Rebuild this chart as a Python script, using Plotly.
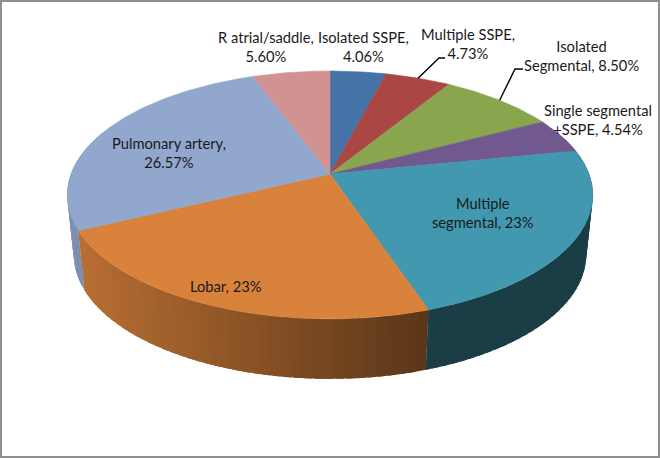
"""Tilted 3D-look pie of pulmonary embolism location, drawn on a pixel-sized axis."""

import math

import plotly.graph_objects as go

CATEGORIES = [
    "Isolated SSPE", "Multiple SSPE", "Isolated Segmental", "Single segmental +SSPE",
    "Multiple segmental", "Lobar", "Pulmonary artery", "R atrial/saddle",
]
VALUES = [4.06, 4.73, 8.50, 4.54, 23, 23, 26.57, 5.60]
COLORS = ["#4572A7", "#AA4643", "#89A54E", "#71588F", "#4198AF", "#D9823B", "#91A7CE", "#D19392"]

LABELS = [
    "Isolated SSPE,<br>4.06%", "Multiple SSPE,<br>4.73%", "Isolated<br>Segmental, 8.50%",
    "Single segmental<br>+SSPE, 4.54%", "Multiple<br>segmental, 23%", "Lobar, 23%",
    "Pulmonary artery,<br>26.57%", "R atrial/saddle,<br>5.60%",
]
LABEL_POS = [(363, 46), (468, 43), (581, 55), (598, 119), (483, 212), (226, 286), (169, 152), (266, 46)]
# slices with a leader line: index -> elbow and end of the line, in pixels
LEADERS = {1: [(439, 58), (445, 58)], 2: [(515, 69), (523, 69)]}

# pie geometry in pixels, with a little perspective so the near half looks bigger
CX, CY = 330, 174
RX, RY, PERSP = 259, 120.4, 0.169
DEPTH, BOTTOM_SCALE = 60, 0.975


def top_point(angle):
    """Angle in degrees, clockwise from 12 o'clock, to a point on the top rim."""
    u, v = math.sin(math.radians(angle)), math.cos(math.radians(angle))
    k = 1 + PERSP * v
    return CX + RX * u / k, CY - RY * v / k


def bottom_point(angle):
    x, y = top_point(angle)
    return CX + BOTTOM_SCALE * (x - CX), y + DEPTH


def shade(color, x):
    # the rim goes darker from left to right
    f = max(0.40, 0.85 - (x - 80) / 348 * 0.43)
    r, g, b = (int(color[i:i + 2], 16) for i in (1, 3, 5))
    return f"rgb({r * f:.0f},{g * f:.0f},{b * f:.0f})"


def polygon(xs, ys, color, width=0.6):
    return go.Scatter(
        x=xs, y=ys, mode="lines", fill="toself", fillcolor=color,
        line=dict(color=color, width=width), hoverinfo="skip", showlegend=False,
    )


total = sum(VALUES)
edges = [0]
for value in VALUES:
    edges.append(edges[-1] + value / total * 360)

fig = go.Figure()

# rim strips in rising angle; each runs a bit under the next one so no seams show
for i, color in enumerate(COLORS):
    a = edges[i]
    while a < edges[i + 1]:
        b = min(a + 2, edges[i + 1])
        if 70 < a < 290:
            end = min(b + 1.5, edges[i + 1])
            arc = [a, (a + end) / 2, end]
            pts = [top_point(t) for t in arc] + [bottom_point(t) for t in reversed(arc)]
            fig.add_trace(polygon([p[0] for p in pts], [p[1] for p in pts], shade(color, pts[0][0]), 0))
        a = b

# top face
for i, color in enumerate(COLORS):
    steps = max(2, int((edges[i + 1] - edges[i]) * 2))
    angles = [edges[i] + (edges[i + 1] - edges[i]) * s / steps for s in range(steps + 1)]
    rim = [top_point(a) for a in angles]
    fig.add_trace(polygon([CX] + [p[0] for p in rim] + [CX], [CY] + [p[1] for p in rim] + [CY], color))

# leader lines
for i, tail in LEADERS.items():
    pts = [top_point((edges[i] + edges[i + 1]) / 2)] + tail
    fig.add_trace(go.Scatter(
        x=[p[0] for p in pts], y=[p[1] for p in pts], mode="lines",
        line=dict(color="#000000", width=1.4), hoverinfo="skip", showlegend=False,
    ))

for label, (x, y) in zip(LABELS, LABEL_POS):
    fig.add_annotation(x=x, y=y, text=label, showarrow=False, align="center",
                       font=dict(family="Lato", size=14.7, color="#1a1a1a"))

fig.update_layout(
    width=660, height=458, margin=dict(l=0, r=0, t=0, b=0),
    paper_bgcolor="white", plot_bgcolor="white",
    xaxis=dict(range=[0, 660], visible=False, fixedrange=True),
    yaxis=dict(range=[458, 0], visible=False, fixedrange=True),
    shapes=[dict(type="rect", x0=1, y0=1, x1=659, y1=457, line=dict(color="#8f8f8f", width=2))],
)
# the page's default body margin would push the figure 8px off
fig.write_html(
    "out.html", config=dict(displayModeBar=False),
    post_script="document.body.style.margin='0';document.body.style.overflow='hidden';",
)
